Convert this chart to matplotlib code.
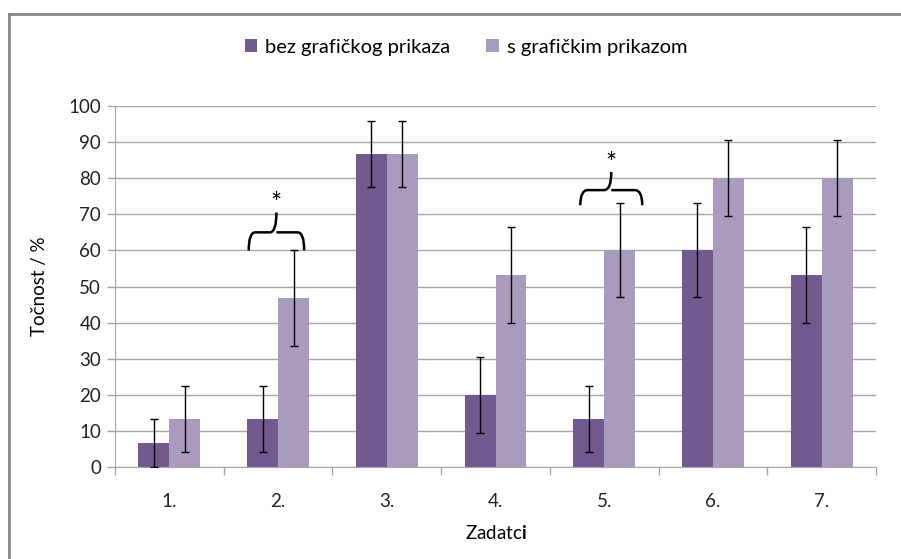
import matplotlib.pyplot as plt
import numpy as np
from matplotlib.path import Path
from matplotlib.patches import PathPatch
from matplotlib.lines import Line2D

# Data
zadaci = ['1.', '2.', '3.', '4.', '5.', '6.', '7.']
bez = [6.7, 13.3, 86.7, 20.0, 13.3, 60.0, 53.3]
bez_err = [6.7, 9.1, 9.1, 10.6, 9.1, 13.0, 13.3]
sa = [13.3, 46.7, 86.7, 53.3, 60.0, 80.0, 80.0]
sa_err = [9.1, 13.3, 9.1, 13.3, 13.0, 10.6, 10.6]
legend_labels = ['bez grafičkog prikaza', 's grafičkim prikazom']

dark = '#72598F'
light = '#A99BBD'
grid_c = '#A6A6A6'
fs = 13.5

plt.rcParams['font.family'] = ['Lato', 'DejaVu Sans']
plt.rcParams['mathtext.fontset'] = 'custom'
plt.rcParams['mathtext.rm'] = 'Lato'
plt.rcParams['mathtext.bf'] = 'Lato:bold'

fig = plt.figure(figsize=(9.01, 5.59), dpi=100)
ax = fig.add_axes([115 / 901, 92 / 559, 761 / 901, 361 / 559])

x = np.arange(len(zadaci)) + 0.5
w = 0.285
ax.bar(x - w / 2, bez, w, color=dark, label=legend_labels[0], zorder=2)
ax.bar(x + w / 2, sa, w, color=light, label=legend_labels[1], zorder=2)
ax.errorbar(x - w / 2, bez, yerr=bez_err, fmt='none', ecolor='black',
            elinewidth=1, capsize=3, capthick=1, zorder=3)
ax.errorbar(x + w / 2, sa, yerr=sa_err, fmt='none', ecolor='black',
            elinewidth=1, capsize=3, capthick=1, zorder=3)

ax.set_xlim(0, 7)
ax.set_ylim(0, 100)
ax.set_yticks(np.arange(0, 101, 10))
ax.yaxis.grid(True, color=grid_c, linewidth=1)
ax.set_axisbelow(True)
ax.set_xticks(np.arange(0, 8))
ax.set_xticklabels([])
ax.set_xticks(x, minor=True)
ax.set_xticklabels(zadaci, minor=True)
ax.tick_params(axis='x', which='major', length=6, color=grid_c, width=1)
ax.tick_params(axis='x', which='minor', length=0, pad=19, labelsize=fs, colors='#222222')
ax.tick_params(axis='y', length=6, color=grid_c, width=1, labelsize=fs, colors='#222222', pad=4)
for s in ['top', 'right']:
    ax.spines[s].set_visible(False)
ax.spines['left'].set_color(grid_c)
ax.spines['bottom'].set_color(grid_c)


def brace(xl, xr, yb, ym, yt):
    xc = (xl + xr) / 2
    r = (xr - xl) * 0.12
    verts = [(xl, yb), (xl, ym), (xl + r, ym),
             (xc - r, ym), (xc, ym), (xc, yt),
             (xc, ym), (xc + r, ym),
             (xr - r, ym), (xr, ym), (xr, yb)]
    codes = [Path.MOVETO, Path.CURVE3, Path.CURVE3,
             Path.LINETO, Path.CURVE3, Path.CURVE3,
             Path.MOVETO, Path.LINETO,
             Path.LINETO, Path.CURVE3, Path.CURVE3]
    ax.add_patch(PathPatch(Path(verts, codes), fill=False, lw=1.8,
                           edgecolor='black', zorder=4, clip_on=False))
    ax.text(xc, yt + 2.2, '*', ha='center', va='center', fontsize=19)


brace(1.23, 1.74, 60, 65, 70.5)
brace(4.28, 4.85, 72.5, 76.7, 81.7)

ax.set_ylabel('Točnost / %', fontsize=fs, labelpad=15)
ax.set_xlabel('Zadatc$\\mathbf{i}$', fontsize=fs, labelpad=10)

fig.legend(loc='center', bbox_to_anchor=(466 / 901, 512 / 559), ncol=2,
           frameon=False, fontsize=fs + 1, handlelength=0.6, handleheight=0.6,
           handletextpad=0.4, columnspacing=1.8)

fig.add_artist(Line2D([9 / 901, 9 / 901], [0, 1 - 14 / 559], color='#868686', lw=2))
fig.add_artist(Line2D([9 / 901, 1], [1 - 14 / 559, 1 - 14 / 559], color='#868686', lw=2))

fig.savefig('out.png', dpi=100)
